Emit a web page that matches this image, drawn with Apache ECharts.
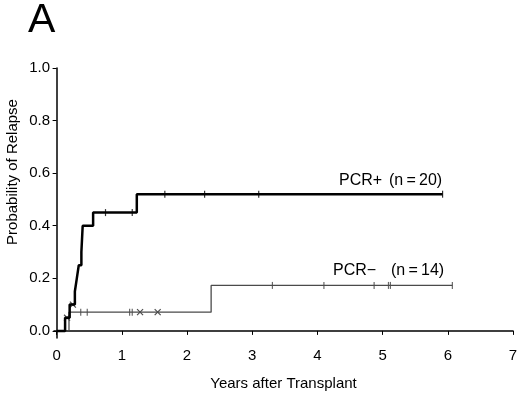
<!DOCTYPE html>
<html>
<head>
<meta charset="utf-8">
<script src="https://cdn.jsdelivr.net/npm/echarts@6/dist/echarts.min.js"></script>
<style>
html, body { margin: 0; padding: 0; background: #fff; }
#chart { width: 520px; height: 394px; }
</style>
</head>
<body>
<div id="chart"></div>
<script>
// PCR+ step curve (years, cumulative probability)
var plusTimes = [0, 0.13, 0.20, 0.28, 0.31, 0.34, 0.38, 0.39, 0.40, 0.56, 1.23, 5.92];
var plusProb = [0, 0.05, 0.10, 0.15, 0.20, 0.25, 0.30, 0.35, 0.40, 0.45, 0.52, 0.52];
var plusCensorTimes = [0.75, 1.16, 1.66, 2.27, 3.10, 5.92];
var plusCensorProb = [0.45, 0.45, 0.52, 0.52, 0.52, 0.52];

// PCR- step curve
var minusTimes = [0, 0.19, 2.37, 6.07];
var minusProb = [0, 0.0714, 0.173, 0.173];
var minusCensorTimes = [0.37, 0.47, 1.12, 1.16, 3.31, 4.10, 4.87, 5.09, 5.12, 6.07];
var minusCensorProb = [0.0714, 0.0714, 0.0714, 0.0714, 0.173, 0.173, 0.173, 0.173, 0.173, 0.173];
var crossTimes = [0.16, 0.25, 1.28, 1.55];
var crossProb = [0.05, 0.10, 0.0714, 0.0714];

var xTicks = [0, 1, 2, 3, 4, 5, 6, 7];
var yTicks = [0, 0.2, 0.4, 0.6, 0.8, 1.0];

function pairs(xs, ys) {
    var out = [];
    for (var i = 0; i < xs.length; i++) out.push([xs[i], ys[i]]);
    return out;
}

var font = 'Liberation Sans, Arial, sans-serif';
var chart = echarts.init(document.getElementById('chart'));
var option = {
    animation: false,
    backgroundColor: '#fff',
    grid: { left: 54, right: 7, top: 68, bottom: 56, outerBoundsMode: 'none', containLabel: false },
    xAxis: {
        type: 'value',
        min: -0.04,
        max: 7,
        name: 'Years after Transplant',
        nameLocation: 'middle',
        nameGap: 38,
        nameTextStyle: { fontFamily: font, fontSize: 15, color: '#000' },
        axisLine: { show: true, lineStyle: { color: '#000', width: 1.5 } },
        axisTick: { show: true, customValues: xTicks, length: 4, lineStyle: { color: '#000' } },
        axisLabel: { customValues: xTicks, fontFamily: font, fontSize: 15, color: '#000', margin: 10 },
        splitLine: { show: false }
    },
    yAxis: {
        type: 'value',
        min: -0.027,
        max: 1,
        axisLine: { show: true, lineStyle: { color: '#000', width: 1.5 } },
        axisTick: { show: true, customValues: yTicks, length: 4, lineStyle: { color: '#000' } },
        axisLabel: {
            customValues: yTicks, fontFamily: font, fontSize: 15, color: '#000', margin: 4,
            formatter: function (v) { return v.toFixed(1); }
        },
        splitLine: { show: false }
    },
    graphic: [
        { type: 'text', left: 28, top: 0, style: { text: 'A', font: '41px ' + font, fill: '#000' } },
        {
            type: 'text', x: 13, y: 172, rotation: Math.PI / 2,
            style: { text: 'Probability of Relapse', font: '15px ' + font, fill: '#000', align: 'center', verticalAlign: 'middle' }
        },
        { type: 'text', left: 339, top: 173, style: { text: 'PCR+', font: '16px ' + font, fill: '#000' } },
        { type: 'text', left: 389, top: 173, style: { text: '(n\u2009=\u200920)', font: '16px ' + font, fill: '#000' } },
        { type: 'text', left: 333, top: 263, style: { text: 'PCR\u2212', font: '16px ' + font, fill: '#000' } },
        { type: 'text', left: 391, top: 263, style: { text: '(n\u2009=\u200914)', font: '16px ' + font, fill: '#000' } }
    ],
    series: [
        {
            name: 'PCR-',
            type: 'line',
            step: 'end',
            showSymbol: false,
            data: pairs(minusTimes, minusProb),
            lineStyle: { color: '#4a4a4a', width: 1.3 }
        },
        {
            name: 'PCR+',
            type: 'line',
            step: 'end',
            showSymbol: false,
            data: pairs(plusTimes, plusProb),
            lineStyle: { color: '#000', width: 2.5 }
        },
        {
            type: 'scatter',
            symbol: 'rect',
            symbolSize: [1.2, 7],
            data: pairs(plusCensorTimes, plusCensorProb),
            itemStyle: { color: '#000' }
        },
        {
            type: 'scatter',
            symbol: 'rect',
            symbolSize: [1.2, 7],
            data: pairs(minusCensorTimes, minusCensorProb),
            itemStyle: { color: '#444' }
        },
        {
            type: 'scatter',
            symbol: 'path://M0,0 L10,10 M10,0 L0,10',
            symbolSize: 6,
            data: pairs(crossTimes, crossProb),
            itemStyle: { color: 'none', borderColor: '#222', borderWidth: 1.2 }
        }
    ]
};
chart.setOption(option);
</script>
</body>
</html>
